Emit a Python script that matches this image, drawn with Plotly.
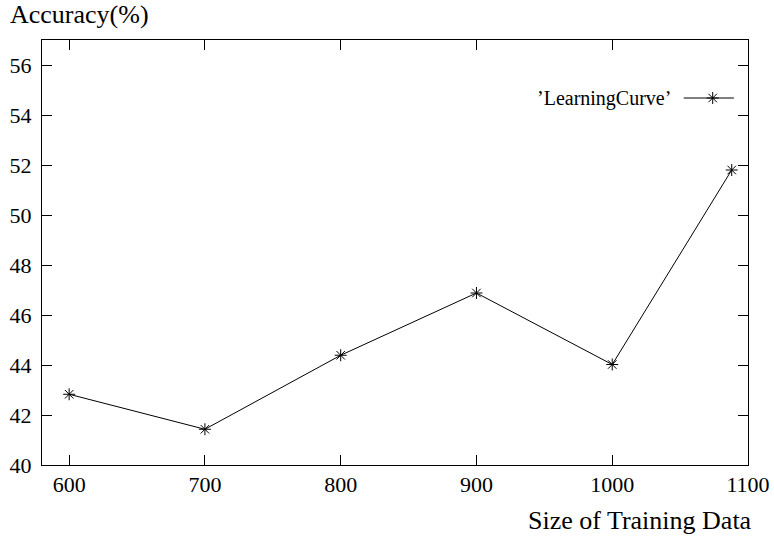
import plotly.graph_objects as go

train_size = [600, 700, 800, 900, 1000, 1088]
accuracy = [42.83, 41.43, 44.39, 46.88, 44.02, 51.8]
x_ticks = [600, 700, 800, 900, 1000, 1100]
y_ticks = [40, 42, 44, 46, 48, 50, 52, 54, 56]
series_name = "\u2019LearningCurve\u2019"

FONT = "Liberation Serif, Times New Roman, serif"

fig = go.Figure()
fig.add_trace(go.Scatter(
    x=train_size, y=accuracy, mode="lines+markers", name=series_name,
    line=dict(color="black", width=1),
    marker=dict(symbol="asterisk-open", size=10, color="black", line=dict(color="black", width=1)),
    showlegend=False,
))
# legend key drawn on an invisible overlay axis (gnuplot style: text left of sample)
fig.add_trace(go.Scatter(
    x=[0.909, 0.980], y=[0.8635, 0.8635], mode="lines", xaxis="x2", yaxis="y2",
    line=dict(color="black", width=1), showlegend=False, hoverinfo="skip",
))
fig.add_trace(go.Scatter(
    x=[0.950], y=[0.8635], mode="markers", xaxis="x2", yaxis="y2",
    marker=dict(symbol="asterisk-open", size=10, color="black", line=dict(color="black", width=1)),
    showlegend=False, hoverinfo="skip",
))

axis_common = dict(
    showline=True, linecolor="black", linewidth=1, mirror="ticks",
    ticks="inside", ticklen=10, tickwidth=1, tickcolor="black",
    showgrid=False, zeroline=False, automargin=False,
    tickfont=dict(family=FONT, size=22, color="black"),
)

fig.update_layout(
    width=774, height=538,
    margin=dict(l=42, r=26, t=40, b=73),
    paper_bgcolor="white", plot_bgcolor="white",
    font=dict(family=FONT, size=20, color="black"),
    xaxis=dict(range=[580, 1100], tickvals=x_ticks, ticktext=[str(v) for v in x_ticks], **axis_common),
    yaxis=dict(range=[40, 57], tickvals=y_ticks, ticktext=[str(v) for v in y_ticks],
               ticklabelstandoff=5, **axis_common),
    xaxis2=dict(range=[0, 1], overlaying="x", visible=False, fixedrange=True),
    yaxis2=dict(range=[0, 1], overlaying="y", visible=False, fixedrange=True),
    annotations=[
        dict(text="Accuracy(%)", xref="paper", yref="paper", x=0, xshift=-34, y=1.0, yshift=26,
             xanchor="left", yanchor="middle", showarrow=False,
             font=dict(family=FONT, size=26, color="black")),
        dict(text="Size of Training Data", xref="paper", yref="paper", x=1.0, xshift=6, y=0, yshift=-55,
             xanchor="right", yanchor="middle", showarrow=False,
             font=dict(family=FONT, size=26, color="black")),
        dict(text=series_name, xref="x2", yref="y2", x=0.894, y=0.8635,
             xanchor="right", yanchor="middle", showarrow=False,
             font=dict(family=FONT, size=20, color="black")),
    ],
)

fig.write_html("out.html", config={"displayModeBar": False},
               post_script="document.body.style.margin='0';")
